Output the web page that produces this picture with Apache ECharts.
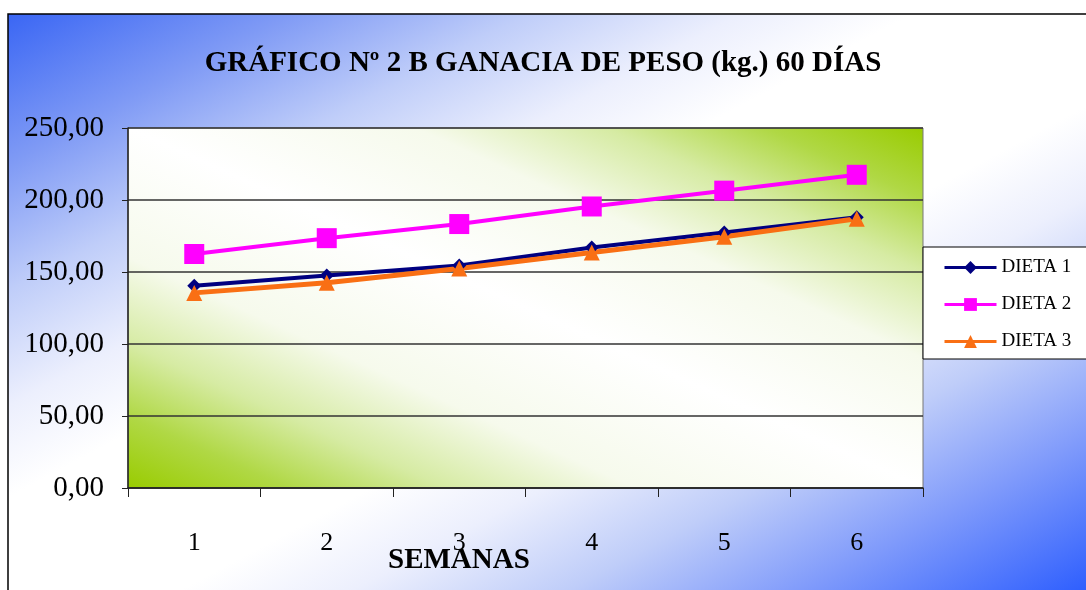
<!DOCTYPE html>
<html>
<head>
<meta charset="utf-8">
<script src="https://cdn.jsdelivr.net/npm/echarts@6/dist/echarts.min.js"></script>
<style>
html,body{margin:0;padding:0;background:#fff;}
#chart{width:1086px;height:590px;}
</style>
</head>
<body>
<div id="chart"></div>
<script>
var titleText = 'GRÁFICO Nº 2 B GANACIA DE PESO (kg.) 60 DÍAS';
var xAxisName = 'SEMANAS';
var categories = ['1', '2', '3', '4', '5', '6'];
var seriesNames = ['DIETA 1', 'DIETA 2', 'DIETA 3'];
var dieta1 = [140.5, 147.5, 154.5, 167, 177.5, 188];
var dieta2 = [162.5, 173.5, 183.3, 195.5, 206.5, 217.5];
var dieta3 = [135.5, 142.5, 152.5, 163.5, 174.5, 187];
var yTicks = [0, 50, 100, 150, 200, 250];

var chart = echarts.init(document.getElementById('chart'));
var serif = '"Liberation Serif", "Times New Roman", serif';

var outerFill = new echarts.graphic.LinearGradient(8, 14, 487, 910, [
  { offset: 0, color: '#3a66f4' },
  { offset: 0.13, color: '#7f9af5' },
  { offset: 0.24, color: '#bfcdf9' },
  { offset: 0.34, color: '#eceffd' },
  { offset: 0.42, color: '#ffffff' },
  { offset: 0.58, color: '#ffffff' },
  { offset: 0.66, color: '#eceffd' },
  { offset: 0.76, color: '#bfcdf9' },
  { offset: 0.87, color: '#7f9afb' },
  { offset: 1, color: '#2f5ffe' }
], true);

var plotFill = new echarts.graphic.LinearGradient(128, 488, 399, -110, [
  { offset: 0, color: '#99cc00' },
  { offset: 0.1, color: '#b0d845' },
  { offset: 0.2, color: '#d6eba3' },
  { offset: 0.32, color: '#f6faec' },
  { offset: 0.5, color: '#ffffff' },
  { offset: 0.68, color: '#f6faec' },
  { offset: 0.8, color: '#d6eba3' },
  { offset: 0.9, color: '#b0d845' },
  { offset: 1, color: '#99cc00' }
], true);

chart.setOption({
  backgroundColor: '#ffffff',
  animation: false,
  graphic: [
    {
      type: 'rect', z: -100, silent: true,
      shape: { x: 8, y: 14, width: 1100, height: 600 },
      style: { fill: outerFill, stroke: '#000000', lineWidth: 1.5 }
    },
    {
      type: 'text', z: 100, silent: true,
      left: 388, top: 546,
      style: { text: xAxisName, font: 'bold 29px ' + serif, fill: '#000' }
    }
  ],
  title: {
    text: titleText,
    left: 'center',
    top: 44,
    textStyle: { fontFamily: serif, fontWeight: 'bold', fontSize: 29, color: '#000' }
  },
  grid: {
    left: 128, top: 128, width: 795, height: 360,
    show: true,
    borderColor: '#777777', borderWidth: 1,
    backgroundColor: plotFill
  },
  legend: {
    orient: 'vertical',
    left: 923, top: 247,
    padding: [11, 40, 8, 20],
    itemGap: 18,
    itemWidth: 52, itemHeight: 16,
    lineStyle: { width: 3 },
    backgroundColor: '#ffffff',
    borderColor: '#000000', borderWidth: 1,
    borderRadius: 0,
    textStyle: { fontFamily: serif, fontSize: 19, color: '#000' },
    data: seriesNames
  },
  xAxis: {
    type: 'category',
    data: categories,
    boundaryGap: true,
    axisLine: { lineStyle: { color: '#222', width: 1.5 } },
    axisTick: { show: true, length: 9, lineStyle: { color: '#222', width: 1 } },
    axisLabel: { margin: 42, fontFamily: serif, fontSize: 26, color: '#000' },
    splitLine: { show: false }
  },
  yAxis: {
    type: 'value',
    min: 0, max: 250, interval: 50,
    axisLine: { show: true, lineStyle: { color: '#222', width: 1.5 } },
    axisTick: { show: true, length: 6, lineStyle: { color: '#222' } },
    axisLabel: {
      margin: 24, fontFamily: serif, fontSize: 29, color: '#000',
      formatter: function (v) { return yTicks.indexOf(v) >= 0 ? v.toFixed(2).replace('.', ',') : ''; }
    },
    splitLine: { show: true, lineStyle: { color: '#333', width: 1.5 } }
  },
  series: [
    {
      name: seriesNames[0], type: 'line', data: dieta1,
      symbol: 'diamond', symbolSize: 14,
      itemStyle: { color: '#000080' },
      lineStyle: { color: '#000080', width: 4 }
    },
    {
      name: seriesNames[1], type: 'line', data: dieta2,
      symbol: 'rect', symbolSize: 20,
      itemStyle: { color: '#ff00ff' },
      lineStyle: { color: '#ff00ff', width: 4 }
    },
    {
      name: seriesNames[2], type: 'line', data: dieta3,
      symbol: 'triangle', symbolSize: 16,
      itemStyle: { color: '#f96f14' },
      lineStyle: { color: '#f96f14', width: 5 }
    }
  ]
});
</script>
</body>
</html>
